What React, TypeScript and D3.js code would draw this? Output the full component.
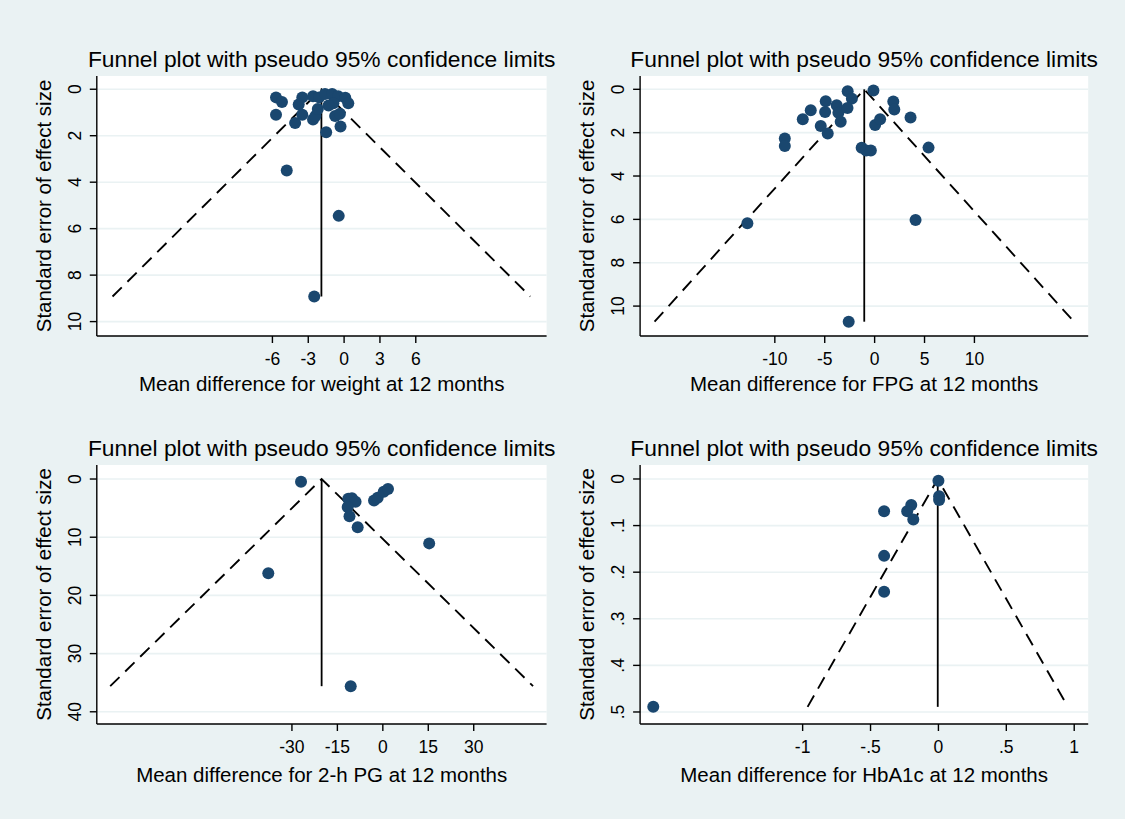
import * as d3 from "d3";

// values
const weightX = [-5.7, -5.2, -5.7, -3.5, -3.8, -3.5, -4.1, -2.6, -2.4, -2.6, -2.1, -1.6, -1.0, -0.5, 0.1, 0.35, -0.9, -1.3, -2.2, -1.5, -0.3, -0.75, -0.35, -4.8, -0.45, -2.5];
const weightSE = [0.35, 0.55, 1.1, 0.35, 0.66, 1.1, 1.45, 1.3, 1.15, 0.3, 0.35, 0.2, 0.2, 0.3, 0.37, 0.6, 0.6, 0.7, 0.85, 1.85, 1.6, 1.15, 1.05, 3.5, 5.45, 8.92];

const fpgX = [-2.7, -0.12, -2.28, -4.9, -4.96, -6.4, -7.2, -3.8, -3.63, -2.72, -3.4, -5.4, -4.7, -9.0, -9.0, -1.3, -0.85, -0.38, 0.05, 0.55, 1.87, 1.97, 3.6, 5.4, 4.1, -12.75, -2.6];
const fpgSE = [0.09, 0.05, 0.43, 0.55, 1.05, 0.97, 1.38, 0.74, 1.08, 0.86, 1.5, 1.69, 2.04, 2.27, 2.62, 2.7, 2.82, 2.82, 1.65, 1.38, 0.56, 0.93, 1.3, 2.69, 6.03, 6.18, 10.72];

const pgX = [-27.0, -11.4, -10.2, -9.0, -11.6, -11.0, -8.3, -2.9, -1.7, 0.3, 1.7, 15.3, -37.8, -10.6];
const pgSE = [0.46, 3.4, 3.3, 3.9, 4.8, 6.4, 8.3, 3.7, 3.2, 2.2, 1.7, 11.06, 16.2, 35.6];

const hbaX = [0, 0.005, 0.005, -0.2, -0.23, -0.4, -0.185, -0.4, -0.4, -2.1];
const hbaSE = [0.004, 0.037, 0.045, 0.056, 0.069, 0.069, 0.087, 0.165, 0.242, 0.489];

const pooled = [-1.9, -1.04, -20.2, -0.005];

const titles = [
  "Mean difference for weight at 12 months",
  "Mean difference for FPG at 12 months",
  "Mean difference for 2-h PG at 12 months",
  "Mean difference for HbA1c at 12 months",
];

const xTicks = [[-6, -3, 0, 3, 6], [-10, -5, 0, 5, 10], [-30, -15, 0, 15, 30], [-1, -0.5, 0, 0.5, 1]];
const yTicks = [[0, 2, 4, 6, 8, 10], [0, 2, 4, 6, 8, 10], [0, 10, 20, 30, 40], [0, 0.1, 0.2, 0.3, 0.4, 0.5]];

const xDomains = [[-20.7, 16.95], [-23.5, 21.4], [-94.4, 54.05], [-2.197, 1.103]];
const yDomains = [[-0.57, 10.62], [-0.614, 11.38], [-2.41, 42.1], [-0.03, 0.5258]];

const BG = "#eaf2f3";
const NAVY = "#1a476f";
const FONT = "'Liberation Sans', Arial, sans-serif";

// Stata style numbers: .5 instead of 0.5
const fmt = (v: number) => String(v).replace(/^(-?)0\./, "$1.");

function Panel({ i, left, right, top, bottom }) {
  const xs = [weightX, fpgX, pgX, hbaX][i];
  const ses = [weightSE, fpgSE, pgSE, hbaSE][i];
  const x = d3.scaleLinear(xDomains[i], [left, right]);
  const y = d3.scaleLinear(yDomains[i], [top, bottom]);
  const b = pooled[i];
  const maxSE = d3.max(ses);
  const cx = (left + right) / 2;

  return (
    <g fontFamily={FONT}>
      <rect x={left} y={top} width={right - left} height={bottom - top} fill="#fff" />
      {yTicks[i].map((t) => (
        <line key={t} x1={left} x2={right} y1={y(t)} y2={y(t)} stroke={BG} strokeWidth={1.6} />
      ))}
      {/* funnel limits */}
      <path
        d={`M${x(b - 1.96 * maxSE)},${y(maxSE)}L${x(b)},${y(0)}L${x(b + 1.96 * maxSE)},${y(maxSE)}`}
        fill="none"
        stroke="#000"
        strokeWidth={1.9}
        strokeDasharray="13 8"
      />
      <line x1={x(b)} x2={x(b)} y1={y(0)} y2={y(maxSE)} stroke="#000" strokeWidth={1.8} />
      {xs.map((d, k) => (
        <circle key={k} cx={x(d)} cy={y(ses[k])} r={6} fill={NAVY} />
      ))}
      {/* axes */}
      <line x1={left} x2={left} y1={top} y2={bottom} stroke="#000" strokeWidth={1.4} />
      <line x1={left} x2={right} y1={bottom} y2={bottom} stroke="#000" strokeWidth={1.4} />
      {yTicks[i].map((t) => (
        <g key={t}>
          <line x1={left - 7} x2={left} y1={y(t)} y2={y(t)} stroke="#000" strokeWidth={1.4} />
          <text
            transform={`translate(${left - 16},${y(t)}) rotate(-90)`}
            textAnchor="middle"
            fontSize={17.5}
          >
            {fmt(t)}
          </text>
        </g>
      ))}
      {xTicks[i].map((t) => (
        <g key={t}>
          <line x1={x(t)} x2={x(t)} y1={bottom} y2={bottom + 7} stroke="#000" strokeWidth={1.4} />
          <text x={x(t)} y={bottom + 29} textAnchor="middle" fontSize={17.5}>
            {fmt(t)}
          </text>
        </g>
      ))}
      <text x={cx} y={bottom + (top < 200 ? 55 : 58)} textAnchor="middle" fontSize={20.5}>
        {titles[i]}
      </text>
      <text
        transform={`translate(${left - 46},${(top + bottom) / 2}) rotate(-90)`}
        textAnchor="middle"
        fontSize={20.5}
      >
        Standard error of effect size
      </text>
      <text x={cx} y={top - 9} textAnchor="middle" fontSize={22.8}>
        Funnel plot with pseudo 95% confidence limits
      </text>
    </g>
  );
}

export default function App() {
  const cols = [
    [96.8, 546.6],
    [640.1, 1088.2],
  ];
  const rows = [
    [76, 336],
    [465, 724],
  ];
  return (
    <svg width={1125} height={819} style={{ position: "absolute", left: 0, top: 0 }}>
      <rect width={1125} height={819} fill={BG} />
      {[0, 1, 2, 3].map((i) => (
        <Panel
          key={i}
          i={i}
          left={cols[i % 2][0]}
          right={cols[i % 2][1]}
          top={rows[Math.floor(i / 2)][0]}
          bottom={rows[Math.floor(i / 2)][1]}
        />
      ))}
    </svg>
  );
}
